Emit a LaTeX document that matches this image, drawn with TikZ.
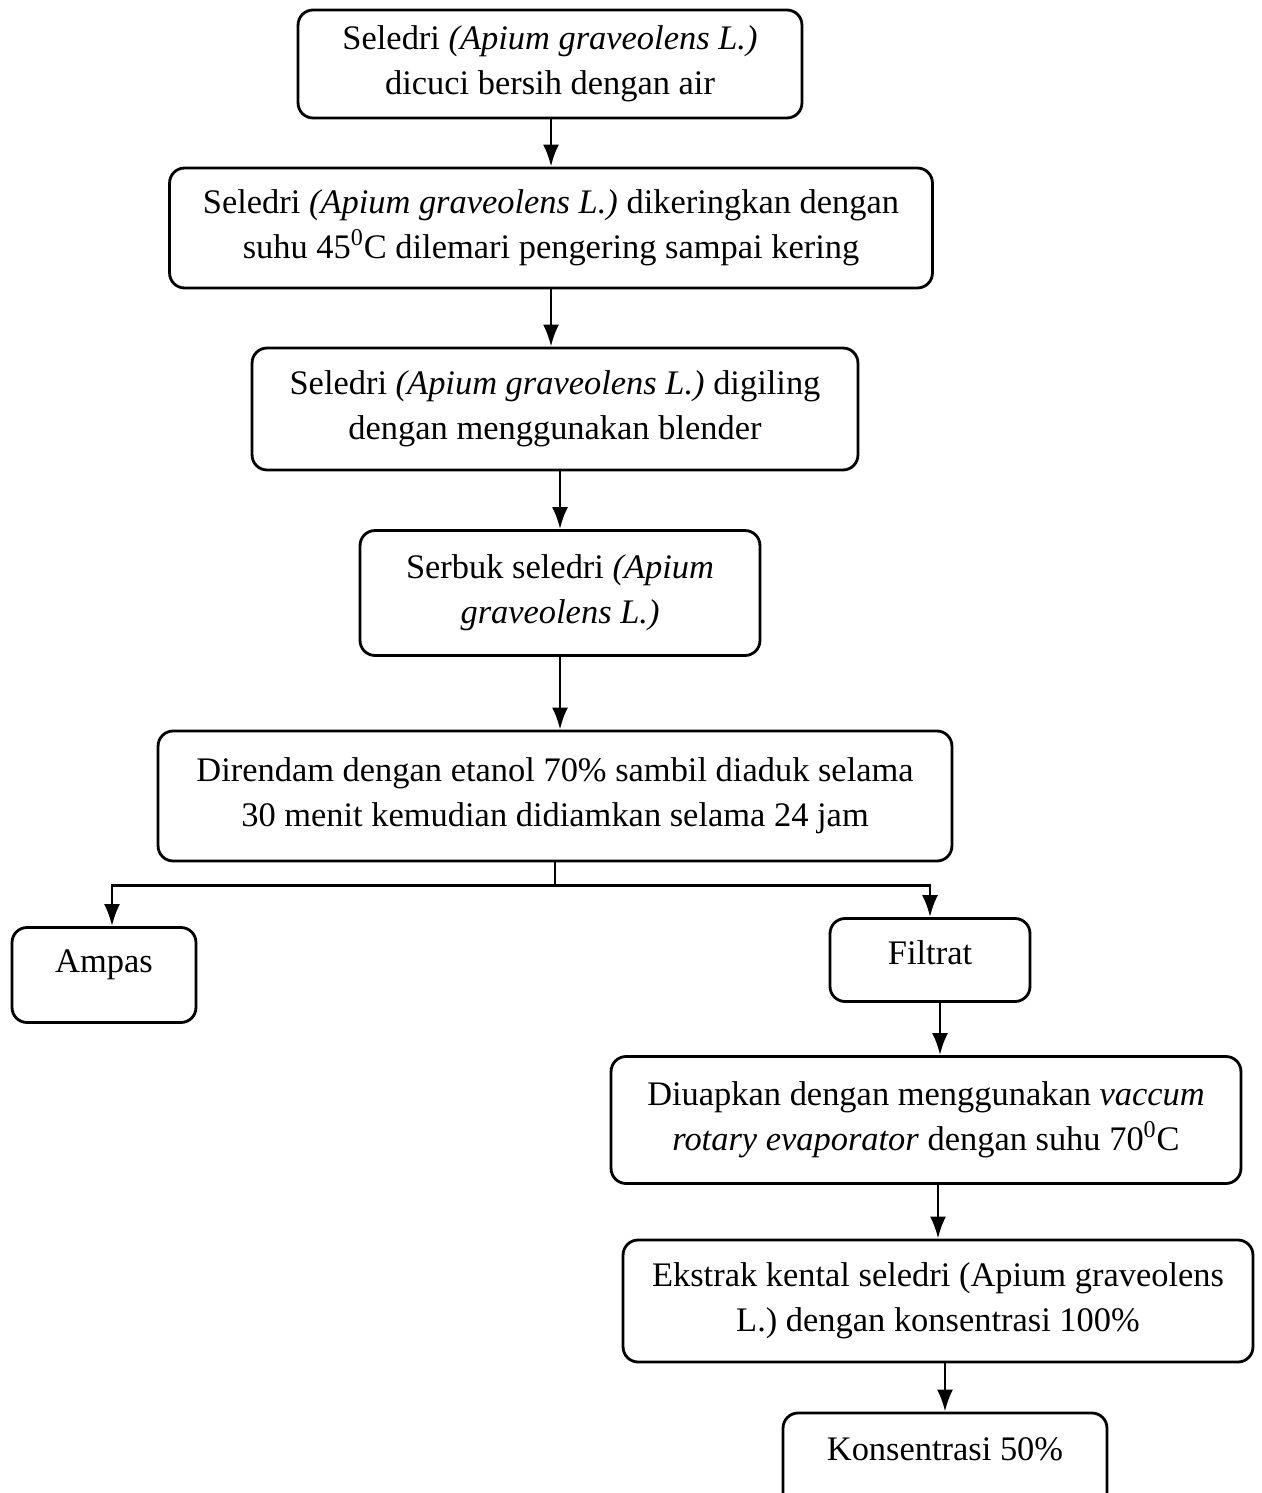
\documentclass[tikz,border=0pt]{standalone}
\usepackage{fontspec}
\setmainfont{Liberation Serif}
\usetikzlibrary{arrows.meta}

\begin{document}
\begin{tikzpicture}[x=0.02cm, y=-0.02cm]
   \tikzstyle{every node}=[font=\fontsize{19.6}{25.6}\selectfont]
   \tikzstyle{stage}=[draw, rounded corners=0.3cm, line width=1.6pt, align=center, inner sep=0pt]
   \tikzstyle{flow}=[draw, line width=1.6pt, -{Latex[length=0.44cm, width=0.32cm]}]

\useasboundingbox (0,0) rectangle (1261,1493);

% alur utama
\node[stage, minimum width=10.08cm, minimum height=2.16cm] (cuci) at (550,64)
    {Seledri \textit{(Apium graveolens L.)}\\dicuci bersih dengan air};
\node[stage, minimum width=15.26cm, minimum height=2.4cm] (kering) at (551,228)
    {Seledri \textit{(Apium graveolens L.)} dikeringkan dengan\\suhu 45\textsuperscript{0}C dilemari pengering sampai kering};
\node[stage, minimum width=12.12cm, minimum height=2.44cm] (giling) at (555,409)
    {Seledri \textit{(Apium graveolens L.)} digiling\\dengan menggunakan blender};
\node[stage, minimum width=8cm, minimum height=2.5cm] (serbuk) at (560,593)
    {Serbuk seledri \textit{(Apium}\\\textit{graveolens L.)}};
\node[stage, minimum width=15.88cm, minimum height=2.6cm] (rendam) at (555,796)
    {Direndam dengan etanol 70\% sambil diaduk selama\\30 menit kemudian didiamkan selama 24 jam};

% cabang
\node[stage, minimum width=3.68cm, minimum height=1.9cm, text depth=0.57cm] (ampas) at (104,975) {Ampas};
\node[stage, minimum width=4cm, minimum height=1.66cm, text depth=0.29cm] (filtrat) at (930,960) {Filtrat};
\node[stage, minimum width=12.6cm, minimum height=2.54cm] (uap) at (926,1120)
    {Diuapkan dengan menggunakan \textit{vaccum}\\\textit{rotary evaporator} dengan suhu 70\textsuperscript{0}C};
\node[stage, minimum width=12.6cm, minimum height=2.44cm] (ekstrak) at (938,1301)
    {Ekstrak kental seledri (Apium graveolens\\L.) dengan konsentrasi 100\%};
\node[stage, minimum width=6.48cm, minimum height=2.4cm, text depth=0.97cm] (hasil) at (945,1473) {Konsentrasi 50\%};

% panah
\draw[flow] (cuci.south -| kering.north) -- (kering.north);
\draw[flow] (kering.south) -- (kering.south |- giling.north);
\draw[flow] (giling.south -| serbuk.north) -- (serbuk.north);
\draw[flow] (serbuk.south) -- (serbuk.south |- rendam.north);
\draw[line width=1.6pt] (rendam.south) -- ++(0,23) coordinate (cabang);
\draw[flow] (cabang) -| ([xshift=0.16cm]ampas.north);
\draw[flow] (cabang) -| (filtrat.north);
\draw[flow] ([xshift=0.2cm]filtrat.south) -- ([xshift=0.2cm]filtrat.south |- uap.north);
\draw[flow] (uap.south -| ekstrak.north) -- (ekstrak.north);
\draw[flow] (ekstrak.south -| hasil.north) -- (hasil.north);

\end{tikzpicture}
\end{document}
